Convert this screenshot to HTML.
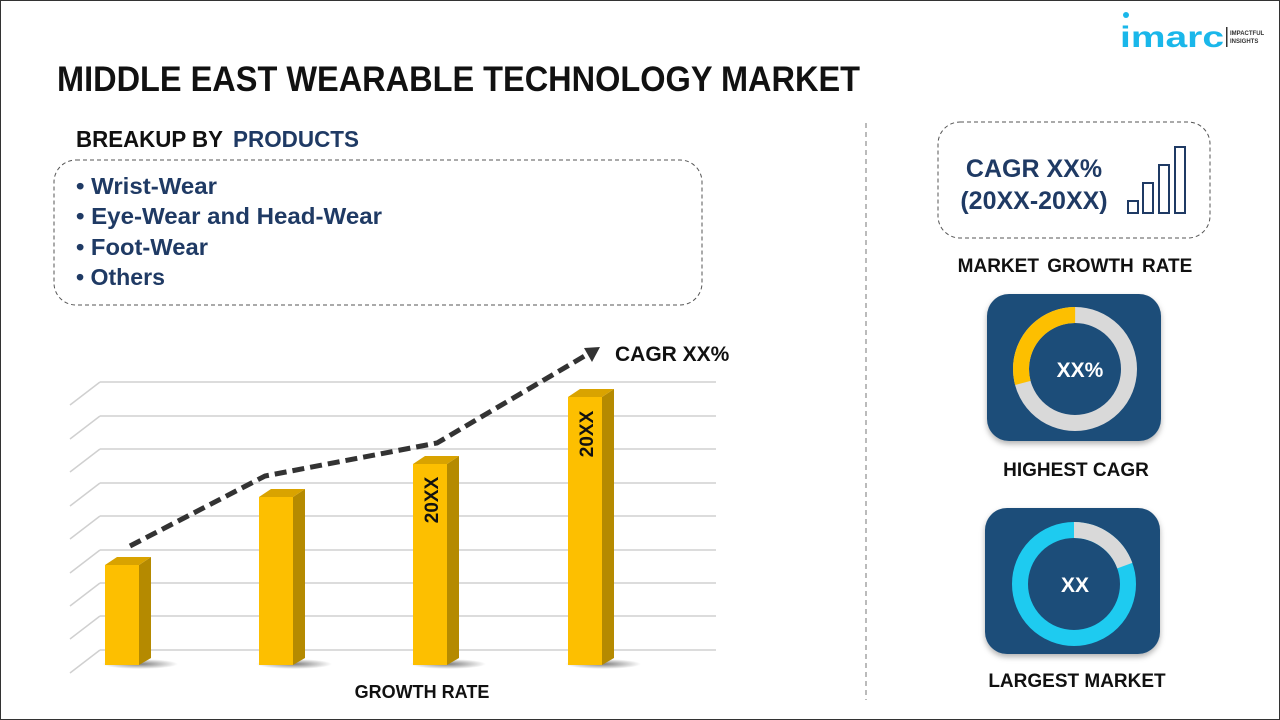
<!DOCTYPE html>
<html><head><meta charset="utf-8"><style>
html,body{margin:0;padding:0;background:#fff;}
svg{display:block;font-family:"Liberation Sans",sans-serif;}
</style></head><body>
<svg width="1280" height="720" viewBox="0 0 1280 720" xmlns="http://www.w3.org/2000/svg">
<defs>
<filter id="sh" x="-20%" y="-20%" width="140%" height="140%"><feDropShadow dx="0" dy="3" stdDeviation="3" flood-color="#000" flood-opacity="0.3"/></filter>
<radialGradient id="bs" cx="0.5" cy="0.5" r="0.5"><stop offset="0" stop-color="#000" stop-opacity="0.5"/><stop offset="1" stop-color="#000" stop-opacity="0"/></radialGradient>
</defs>
<rect x="0.5" y="0.5" width="1279" height="719" fill="#fff" stroke="#333" stroke-width="1"/>
<circle cx="1126" cy="15" r="3" fill="#1ab7ea"/>
<text x="1120" y="47" font-size="30" font-weight="bold" fill="#1ab7ea" textLength="104" lengthAdjust="spacingAndGlyphs">imarc</text>
<rect x="1226" y="27" width="1.5" height="20" fill="#333"/>
<text x="1230" y="35" font-size="6" font-weight="bold" fill="#333">IMPACTFUL</text>
<text x="1230" y="43" font-size="6" font-weight="bold" fill="#333">INSIGHTS</text>
<text x="57" y="91" font-size="35" font-weight="bold" fill="#111" textLength="803" lengthAdjust="spacingAndGlyphs">MIDDLE EAST WEARABLE TECHNOLOGY MARKET</text>
<text x="76" y="147" font-size="23" font-weight="bold" fill="#111" textLength="147" lengthAdjust="spacingAndGlyphs">BREAKUP BY</text>
<text x="233" y="147" font-size="23" font-weight="bold" fill="#1f3a64" textLength="126" lengthAdjust="spacingAndGlyphs">PRODUCTS</text>
<rect x="54" y="160" width="648" height="145" rx="22" fill="none" stroke="#555" stroke-width="1" stroke-dasharray="4,3"/>
<g font-size="23" font-weight="bold" fill="#1f3a64">
<text x="76" y="194" textLength="141" lengthAdjust="spacingAndGlyphs">• Wrist-Wear</text>
<text x="76" y="224" textLength="306" lengthAdjust="spacingAndGlyphs">• Eye-Wear and Head-Wear</text>
<text x="76" y="255" textLength="132" lengthAdjust="spacingAndGlyphs">• Foot-Wear</text>
<text x="76" y="285" textLength="89" lengthAdjust="spacingAndGlyphs">• Others</text>
</g>
<line x1="866" y1="123" x2="866" y2="700" stroke="#777" stroke-width="1" stroke-dasharray="5,4"/>
<g stroke="#d0d0d0" stroke-width="1.5" fill="none">
<path d="M100 382H716M70 405L100 382"/>
<path d="M100 416H716M70 439L100 416"/>
<path d="M100 449H716M70 472L100 449"/>
<path d="M100 483H716M70 506L100 483"/>
<path d="M100 516H716M70 539L100 516"/>
<path d="M100 550H716M70 573L100 550"/>
<path d="M100 583H716M70 606L100 583"/>
<path d="M100 616H716M70 639L100 616"/>
<path d="M100 650H716M70 673L100 650"/>
</g>
<g>
<ellipse cx="140" cy="664" rx="38" ry="5" fill="url(#bs)"/>
<polygon points="139,565 151,557 151,658 139,665" fill="#b58a00"/>
<polygon points="105,565 117,557 151,557 139,565" fill="#d9a300"/>
<rect x="105" y="565" width="34" height="100" fill="#fdbf00"/>
<ellipse cx="294" cy="664" rx="38" ry="5" fill="url(#bs)"/>
<polygon points="293,497 305,489 305,658 293,665" fill="#b58a00"/>
<polygon points="259,497 271,489 305,489 293,497" fill="#d9a300"/>
<rect x="259" y="497" width="34" height="168" fill="#fdbf00"/>
<ellipse cx="448" cy="664" rx="38" ry="5" fill="url(#bs)"/>
<polygon points="447,464 459,456 459,658 447,665" fill="#b58a00"/>
<polygon points="413,464 425,456 459,456 447,464" fill="#d9a300"/>
<rect x="413" y="464" width="34" height="201" fill="#fdbf00"/>
<ellipse cx="603" cy="664" rx="38" ry="5" fill="url(#bs)"/>
<polygon points="602,397 614,389 614,658 602,665" fill="#b58a00"/>
<polygon points="568,397 580,389 614,389 602,397" fill="#d9a300"/>
<rect x="568" y="397" width="34" height="268" fill="#fdbf00"/>
</g>
<text transform="translate(438,500) rotate(-90)" font-size="19" font-weight="bold" fill="#111" text-anchor="middle">20XX</text>
<text transform="translate(593,434) rotate(-90)" font-size="19" font-weight="bold" fill="#111" text-anchor="middle">20XX</text>
<polyline points="130,546 265,476 437,443 588,354" fill="none" stroke="#333" stroke-width="5" stroke-dasharray="12,6"/>
<polygon points="600,347 584,348 592,362" fill="#333"/>
<text x="615" y="361" font-size="21" font-weight="bold" fill="#111">CAGR XX%</text>
<text x="422" y="698" font-size="18" font-weight="bold" fill="#111" text-anchor="middle">GROWTH RATE</text>
<rect x="938" y="122" width="272" height="116" rx="22" fill="none" stroke="#555" stroke-width="1" stroke-dasharray="4,3"/>
<text x="1034" y="177" font-size="25" font-weight="bold" fill="#1f3a64" text-anchor="middle">CAGR XX%</text>
<text x="1034" y="209" font-size="25" font-weight="bold" fill="#1f3a64" text-anchor="middle">(20XX-20XX)</text>
<g fill="none" stroke="#1f3a64" stroke-width="2">
<rect x="1128" y="201" width="10" height="12"/>
<rect x="1143" y="183" width="10" height="30"/>
<rect x="1159" y="165" width="10" height="48"/>
<rect x="1175" y="147" width="10" height="66"/>
</g>
<text x="1075" y="272" font-size="19" font-weight="bold" fill="#111" text-anchor="middle" word-spacing="3">MARKET GROWTH RATE</text>
<rect x="987" y="294" width="174" height="147" rx="22" fill="#1f4e79" filter="url(#sh)"/>
<circle cx="1075" cy="369" r="54" fill="none" stroke="#d9d9d9" stroke-width="16"/>
<circle cx="1075" cy="369" r="54" fill="none" stroke="#fdbf00" stroke-width="16" stroke-dasharray="99 400" transform="rotate(165 1075 369)"/>
<text x="1080" y="377" font-size="21" font-weight="bold" fill="#fff" text-anchor="middle">XX%</text>
<text x="1076" y="476" font-size="19" font-weight="bold" fill="#111" text-anchor="middle">HIGHEST CAGR</text>
<rect x="985" y="508" width="175" height="146" rx="22" fill="#1f4e79" filter="url(#sh)"/>
<circle cx="1074" cy="584" r="54" fill="none" stroke="#1ecbf0" stroke-width="16"/>
<circle cx="1074" cy="584" r="54" fill="none" stroke="#d9d9d9" stroke-width="16" stroke-dasharray="66 400" transform="rotate(-90 1074 584)"/>
<text x="1075" y="592" font-size="21" font-weight="bold" fill="#fff" text-anchor="middle">XX</text>
<text x="1077" y="687" font-size="19" font-weight="bold" fill="#111" text-anchor="middle">LARGEST MARKET</text>
</svg>
</body></html>
